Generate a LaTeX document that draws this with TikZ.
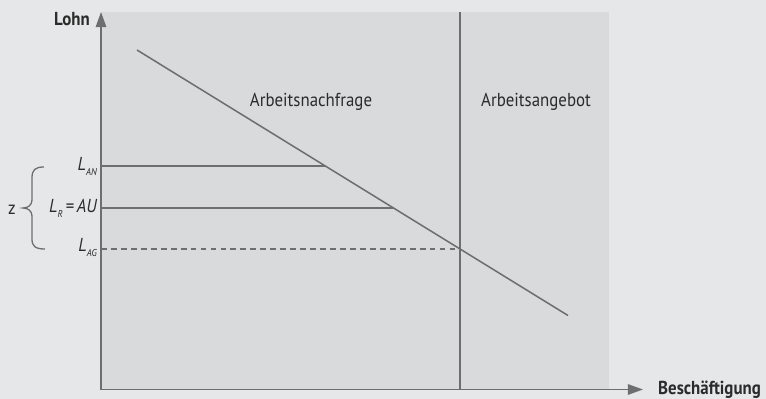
\documentclass[tikz,border=0pt]{standalone}
\usepackage{fontspec}
\setmainfont[FakeStretch=0.9]{PT Sans}
\usepackage{tikz}
\usetikzlibrary{arrows.meta, positioning}

\definecolor{outerbg}{HTML}{E6E7E9}
\definecolor{panelbg}{HTML}{D9DADC}
\definecolor{linegray}{HTML}{6E6E70}
\definecolor{textgray}{HTML}{2B2B2B}

% small italic subscript
\newcommand{\lsub}[1]{\raisebox{-5pt}{\fontsize{8.5}{9}\selectfont\itshape #1}}

\begin{document}
\begin{tikzpicture}[
      x=0.03cm, y=-0.03cm,
      % Define compact styles
      axis/.style={draw=linegray, line width=1.3pt, -{Triangle[width=9pt, length=13pt]}},
      curve/.style={draw=linegray, line width=1.3pt},
      level/.style={draw=linegray, line width=1.3pt},
      guide/.style={draw=linegray, line width=1.3pt, dash pattern=on 5pt off 3.5pt},
      lbl/.style={inner sep=0pt, text=textgray, font=\fontsize{16}{19}\selectfont},
      axlbl/.style={inner sep=0pt, text=textgray, font=\fontsize{16}{19}\selectfont\bfseries},
      lvl/.style={inner sep=0pt, anchor=base east, text=textgray, font=\fontsize{16}{19}\selectfont\itshape}
    ]

    % Background and panel
    \fill[outerbg] (0,0) rectangle (766,399);
    \useasboundingbox (0,0) rectangle (766,399);
    \fill[panelbg] (101,12) rectangle (609,389);

    % Axes
    \coordinate (origin) at (101,389.5);
    \coordinate (ytip) at (101,12);
    \coordinate (xtip) at (643,389.5);
    \node[axlbl, anchor=base east] (lohn) at (90,26) {Lohn};
    \node[axlbl, anchor=base west] (besch) at (658,394) {Beschäftigung};

    % Supply and demand
    \coordinate (stop) at (460,12);
    \coordinate (sbot) at (460,389.5);
    \coordinate (dstart) at (137,50);
    \coordinate (dend) at (568,315.5);
    \node[lbl, anchor=base] (nachfrage) at (311,107) {Arbeitsnachfrage};
    \node[lbl, anchor=base] (angebot) at (536,107) {Arbeitsangebot};

    % Wage levels
    \node[lvl] (lan) at (97,170) {L\lsub{AN}};
    \node[lvl] (lr) at (97,212) {L\lsub{R}\,=\,AU};
    \node[lvl] (lag) at (97,251) {L\lsub{AG}};
    \coordinate (an) at (325,166);
    \coordinate (ar) at (393.5,208);
    \coordinate (ag) at (460,249);

    \draw[curve] (dstart) -- (dend);
    \draw[curve] (stop) -- (sbot);
    \draw[level] (origin |- an) -- (an);
    \draw[level] (origin |- ar) -- (ar);
    \draw[guide] (origin |- ag) -- (ag);
    \draw[axis] (origin) -- (ytip);
    \draw[axis] (origin) -- (xtip);

    % Brace
    \draw[curve, line width=1.1pt] (44,167) .. controls (35,167) and (32,170) .. (32,178)
      -- (32,200) .. controls (32,205) and (28,208) .. (23,208)
      .. controls (28,208) and (32,211) .. (32,216)
      -- (32,239) .. controls (32,246) and (35,249) .. (45,249);
    \node[lbl] (z) at (12,210) {z};

  \end{tikzpicture}
\end{document}
